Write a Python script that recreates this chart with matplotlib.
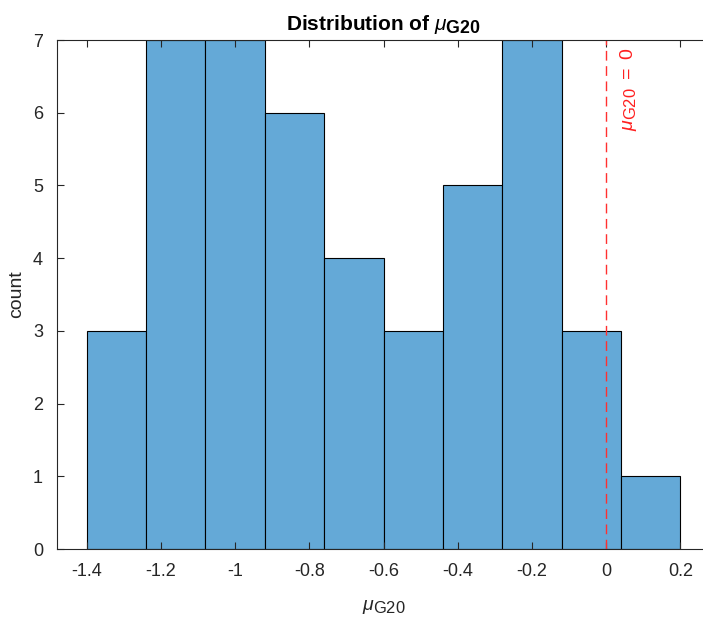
import numpy as np
import matplotlib
matplotlib.use('Agg')
import matplotlib.pyplot as plt
import matplotlib._mathtext as mtext

# histogram of mu_G20
bin_edges = [-1.4, -1.24, -1.08, -0.92, -0.76, -0.6, -0.44, -0.28, -0.12, 0.04, 0.2]
counts = [3, 7, 7, 6, 4, 3, 5, 7, 3, 1]
x_ticks = [-1.4, -1.2, -1.0, -0.8, -0.6, -0.4, -0.2, 0.0, 0.2]
x_ticklabels = ['-1.4', '-1.2', '-1', '-0.8', '-0.6', '-0.4', '-0.2', '0', '0.2']
y_ticks = [0, 1, 2, 3, 4, 5, 6, 7]

# MATLAB's tex subscripts are bigger than mathtext's default
mtext.SHRINK_FACTOR = 0.85

plt.rcParams['font.family'] = ['Liberation Sans', 'DejaVu Sans']
plt.rcParams['mathtext.fontset'] = 'custom'
plt.rcParams['mathtext.rm'] = 'Liberation Sans'
plt.rcParams['mathtext.it'] = 'Liberation Sans:italic'
plt.rcParams['mathtext.bf'] = 'Liberation Sans:bold'

txt = '#262626'
fig = plt.figure(figsize=(7.03, 6.26), dpi=100)
ax = fig.add_axes([57/703, 1 - 549/626, 653/703, 509/626])

widths = np.diff(bin_edges)
ax.bar(bin_edges[:-1], counts, width=widths, align='edge',
       color='#64a9d7', edgecolor='black', linewidth=0.8)

ax.axvline(0, color='#ff3030', linestyle=(0, (7, 4)), linewidth=1.0)
ax.text(0.06, 6.9, r'$\mu_{\mathrm{G20}}$ $=$ 0', color='#ff2020', rotation=90,
        ha='center', va='top', fontsize=14)

ax.set_xlim(-1.48, 0.28)
ax.set_ylim(0, 7)
ax.set_xticks(x_ticks)
ax.set_xticklabels(x_ticklabels)
ax.set_yticks(y_ticks)
ax.tick_params(direction='in', top=True, right=False, labelsize=13,
               colors=txt, length=5, width=0.8, pad=10)
for s in ['left', 'bottom', 'top']:
    ax.spines[s].set_color(txt)
    ax.spines[s].set_linewidth(0.8)
ax.spines['right'].set_visible(False)

ax.set_title(r'Distribution of $\mu_{\mathbf{G20}}$', fontsize=15,
             fontweight='bold', color='black', pad=7)
ax.set_xlabel(r'$\mu_{\mathrm{G20}}$', fontsize=14, color=txt, labelpad=13)
ax.set_ylabel('count', fontsize=14, color=txt, labelpad=6)

fig.savefig('out.png', dpi=100)
